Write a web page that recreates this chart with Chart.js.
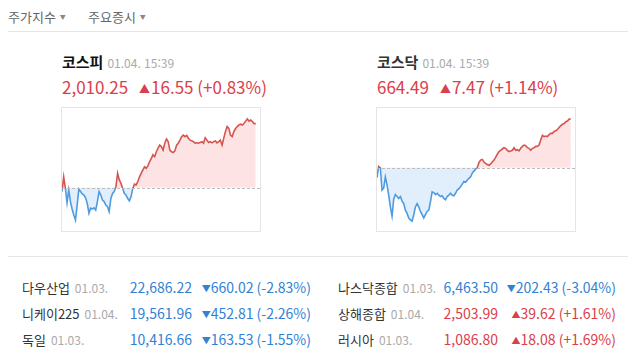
<!DOCTYPE html>
<html lang="ko">
<head>
<meta charset="utf-8">
<script src="https://cdn.jsdelivr.net/npm/chart.js@4.4.1/dist/chart.umd.min.js"></script>
<style>
  body { margin:0; width:640px; height:353px; background:#fff; position:relative; overflow:hidden;
         font-family:"Noto Sans CJK KR", "Noto Sans", sans-serif; color:#333; }
  .abs { position:absolute; white-space:nowrap; }
  .tab { font-size:13px; line-height:20px; color:#666; top:7px; }
  .tab small { font-size:6px; color:#888; margin-left:4px; vertical-align:3px; }
  .rule { position:absolute; left:8px; width:620px; height:1px; background:#e6e6e6; }
  .hname { font-size:15px; line-height:20px; top:52px; font-weight:bold; }
  .hdate { font-size:12px; color:#aaa; margin-left:4px; font-weight:normal; }
  .hval { font-size:17px; line-height:24px; top:75px; }
  .hval .chg { margin-left:11px; }
  .tri { font-size:11px; vertical-align:1px; margin-right:1px; }
  .box { position:absolute; top:107px; width:198px; height:123px; border:1px solid #e5e5e5; }
  .row { font-size:14px; line-height:20px; }
  .rname { font-size:13px; color:#333; }
  .rdate { font-size:12px; color:#aaa; margin-left:5px; }
  .rtri { font-size:9px; vertical-align:1px; }
  .up { color:#d9404b; }
  .down { color:#3282d4; }
</style>
</head>
<body>
<div class="abs tab" style="left:8px">주가지수<small>▼</small></div>
<div class="abs tab" style="left:88px">주요증시<small>▼</small></div>
<div class="rule" style="top:31px"></div>
<div class="rule" style="top:256px"></div>
<div id="stage"></div>
<script>
// main indices (header + mini charts)
const mainNames = ['코스피', '코스닥'];
const mainDates = ['01.04. 15:39', '01.04. 15:39'];
const mainValues = [2010.25, 664.49];
const mainChanges = [16.55, 7.47];
const mainRates = [0.83, 1.14];

// intraday series
const kospiValues = [
  1992.7, 1996.5, 1993.5, 1989.8, 1993.1, 1990.1, 1988.2, 1986.6, 1985.3, 1989.2,
  1993.3, 1992.7, 1992.1, 1991.8, 1991.1, 1989.6, 1987.1, 1988.4, 1988.2, 1988.5,
  1987.9, 1990.1, 1992.7, 1991.8, 1990.5, 1990.1, 1989.2, 1988.8, 1987.5,
  1990.9, 1992.2, 1992.7, 1994.0, 1997.4, 1995.7, 1994.8, 1993.5, 1992.2, 1991.8,
  1990.9, 1990.3, 1991.4, 1993.5, 1994.6, 1994.4, 1995.3, 1996.5, 1997.4, 1998.3,
  1999.1, 1998.7, 1999.4, 2000.4, 2001.3, 2002.2, 2001.7, 2003.0, 2003.9, 2004.7,
  2004.3, 2003.4, 2005.2, 2006.3, 2005.6, 2003.4, 2003.0, 2002.8, 2003.2, 2004.7,
  2005.2, 2006.0, 2006.9, 2007.3, 2006.9, 2007.2, 2006.5, 2006.0, 2005.8, 2005.6,
  2005.2, 2005.3, 2005.2, 2005.4, 2005.6, 2005.2, 2006.6, 2006.0, 2005.4, 2005.6,
  2005.3, 2005.6, 2005.8, 2005.3, 2005.6, 2006.0, 2004.7, 2006.5, 2008.2, 2009.5,
  2009.0, 2007.3, 2006.9, 2008.2, 2009.0, 2009.5, 2009.9, 2010.1, 2009.9, 2010.3,
  2010.9, 2011.5, 2010.9, 2011.2, 2010.8, 2010.25, 2010.25
];
const kosdaqValues = [
  655.5, 657.2, 657.0, 653.6, 653.9, 655.6, 654.4, 652.8, 651.0, 649.6, 652.2,
  652.9, 652.6, 652.3, 652.6, 651.9,
  651.5, 650.5, 650.0, 649.3, 649.0, 648.8, 649.8, 651.0, 651.5, 651.0,
  650.3, 649.8, 649.3, 649.8, 650.3, 650.5, 651.8, 653.3, 653.2, 652.9,
  653.1, 652.8, 652.6, 652.7, 652.3, 652.1, 652.6, 652.8, 653.1, 652.8,
  652.7, 653.1, 653.6, 653.8, 654.1, 654.5, 654.9, 654.8, 655.1, 655.4,
  655.6, 656.2, 656.5, 656.8, 657.0, 657.8, 658.2, 658.3, 657.9, 657.7,
  657.5, 657.4, 657.6, 657.9, 658.2, 658.6, 659.1, 659.5, 659.7, 659.9,
  660.1, 660.0, 659.7, 659.5, 659.6, 659.7, 660.1, 659.7, 659.8, 659.6,
  660.0, 660.3, 660.5, 660.4, 660.1, 660.0, 659.7, 660.0, 660.1, 660.3,
  660.3, 660.5, 661.3, 662.0, 661.8, 661.9, 661.8, 662.1, 662.3, 662.3,
  662.6, 662.7, 662.9, 663.2, 663.5, 663.7, 663.8, 664.1, 664.2, 664.5, 664.5
];
const chartSeries = [kospiValues, kosdaqValues];
const chartYMin = [1982.5, 647.3];
const chartYMax = [2014.3, 666.2];

// world indices table
const indexNames = ['다우산업', '니케이225', '독일', '나스닥종합', '상해종합', '러시아'];
const indexDates = ['01.03.', '01.04.', '01.03.', '01.03.', '01.04.', '01.03.'];
const indexValues = [22686.22, 19561.96, 10416.66, 6463.50, 2503.99, 1086.80];
const indexChanges = [-660.02, -452.81, -163.53, -202.43, 39.62, 18.08];
const indexRates = [-2.83, -2.26, -1.55, -3.04, 1.61, 1.69];

const RED = '#d65450';
const BLUE = '#4f9be0';
const RED_FILL = '#fde3e3';
const BLUE_FILL = '#e1eefb';

const fmt = v => Math.abs(v).toLocaleString('en-US', { minimumFractionDigits: 2, maximumFractionDigits: 2 });
const stage = document.getElementById('stage');

function add(html) {
  stage.insertAdjacentHTML('beforeend', html);
}

// headers + chart boxes
const headLeft = [62, 377];
const headColor = ['#111', '#333'];
mainNames.forEach((name, i) => {
  const x = headLeft[i];
  const cls = mainChanges[i] >= 0 ? 'up' : 'down';
  const tri = mainChanges[i] >= 0 ? '▲' : '▼';
  const sign = mainRates[i] >= 0 ? '+' : '-';
  add(`<div class="abs hname" style="left:${x}px;color:${headColor[i]}">${name}<span class="hdate">${mainDates[i]}</span></div>`);
  add(`<div class="abs hval ${cls}" style="left:${x}px">${fmt(mainValues[i])}<span class="chg"><span class="tri">${tri}</span>${fmt(mainChanges[i])} (${sign}${Math.abs(mainRates[i]).toFixed(2)}%)</span></div>`);
  add(`<div class="box" style="left:${x - 1}px"><canvas id="c${i}"></canvas></div>`);
});

// table
const rowTop = [277, 303, 329];
indexNames.forEach((name, i) => {
  const col = i < 3 ? 0 : 1;
  const top = rowTop[i % 3];
  const nameLeft = col === 0 ? 22 : 338;
  const valRight = col === 0 ? 448 : 142;
  const chgRight = col === 0 ? 329 : 24;
  const cls = indexChanges[i] >= 0 ? 'up' : 'down';
  const tri = indexChanges[i] >= 0 ? '▲' : '▼';
  const sign = indexRates[i] >= 0 ? '+' : '-';
  add(`<div class="abs row" style="left:${nameLeft}px;top:${top}px"><span class="rname">${name}</span><span class="rdate">${indexDates[i]}</span></div>`);
  add(`<div class="abs row ${cls}" style="right:${valRight}px;top:${top}px">${fmt(indexValues[i])}</div>`);
  add(`<div class="abs row ${cls}" style="right:${chgRight}px;top:${top}px"><span class="rtri">${tri}</span>${fmt(indexChanges[i])} (${sign}${Math.abs(indexRates[i]).toFixed(2)}%)</div>`);
});

// dashed previous-close line
const baseLinePlugin = {
  id: 'baseLine',
  afterDatasetsDraw(chart, args, opts) {
    const { ctx, chartArea, scales } = chart;
    const y = Math.round(scales.y.getPixelForValue(opts.value)) + 0.5;
    ctx.save();
    ctx.strokeStyle = '#bdbdbd';
    ctx.lineWidth = 1;
    ctx.setLineDash([3, 2]);
    ctx.beginPath();
    ctx.moveTo(chartArea.left, y);
    ctx.lineTo(chartArea.right, y);
    ctx.stroke();
    ctx.restore();
  }
};

chartSeries.forEach((series, i) => {
  const prevClose = mainValues[i] - mainChanges[i];
  new Chart(document.getElementById('c' + i), {
    type: 'line',
    data: {
      labels: series.map((_, k) => k),
      datasets: [{
        data: series,
        borderWidth: 1.6,
        pointRadius: 0,
        tension: 0,
        borderColor: function (context) {
          const chart = context.chart;
          const area = chart.chartArea;
          if (!area) return RED;
          const y0 = chart.scales.y.getPixelForValue(prevClose);
          const stop = Math.min(1, Math.max(0, (y0 - area.top) / (area.bottom - area.top)));
          const g = chart.ctx.createLinearGradient(0, area.top, 0, area.bottom);
          g.addColorStop(0, RED);
          g.addColorStop(stop, RED);
          g.addColorStop(stop, BLUE);
          g.addColorStop(1, BLUE);
          return g;
        },
        fill: { target: { value: prevClose }, above: RED_FILL, below: BLUE_FILL }
      }]
    },
    options: {
      responsive: true,
      maintainAspectRatio: false,
      animation: false,
      layout: { padding: 0 },
      scales: {
        x: { type: 'linear', display: false, min: 0, max: series.length + 1.5 },
        y: { display: false, min: chartYMin[i], max: chartYMax[i] }
      },
      plugins: {
        legend: { display: false },
        tooltip: { enabled: false },
        baseLine: { value: prevClose }
      }
    },
    plugins: [baseLinePlugin]
  });
});
</script>
</body>
</html>
